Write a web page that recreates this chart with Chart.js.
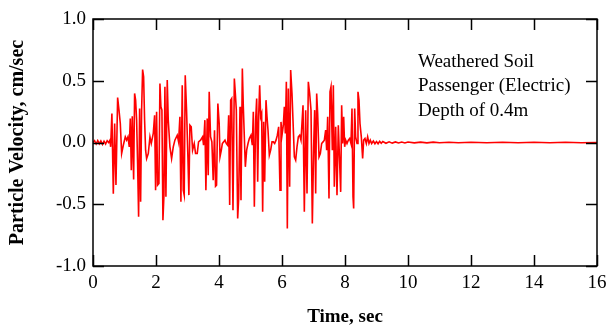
<!DOCTYPE html>
<html>
<head>
<meta charset="utf-8">
<script src="https://cdn.jsdelivr.net/npm/chart.js@4"></script>
<style>
  html, body { margin: 0; padding: 0; background: #fff; }
  #wrap { width: 608px; height: 330px; }
</style>
</head>
<body>
<div id="wrap"><canvas id="velChart" width="608" height="330"></canvas></div>
<script>
// velocity record
const timeSec = [
  0.00, 0.05, 0.10, 0.15, 0.20, 0.25, 0.30, 0.35, 0.40, 0.45, 0.50, 0.54,
  0.56, 0.60, 0.645, 0.687, 0.729, 0.782, 0.825, 0.867, 0.909, 0.962, 1.025, 1.068,
  1.110, 1.152, 1.184, 1.216, 1.247, 1.290, 1.321, 1.353, 1.385, 1.416, 1.448, 1.480,
  1.512, 1.543, 1.575, 1.607, 1.638, 1.670, 1.702, 1.755, 1.808, 1.850, 1.913, 1.956,
  1.987, 2.019, 2.051, 2.093, 2.125, 2.156, 2.188, 2.220, 2.252, 2.283, 2.315, 2.357,
  2.389, 2.442, 2.495, 2.548, 2.600, 2.674, 2.717, 2.759, 2.791, 2.833, 2.865, 2.896,
  2.928, 2.970, 3.013, 3.044, 3.076, 3.118, 3.161, 3.214, 3.256, 3.309, 3.351, 3.414,
  3.478, 3.510, 3.552, 3.584, 3.626, 3.658, 3.689, 3.732, 3.774, 3.816, 3.858, 3.890,
  3.922, 3.964, 4.006, 4.032, 4.074, 4.106, 4.148, 4.190, 4.233, 4.275, 4.307, 4.339,
  4.370, 4.402, 4.444, 4.487, 4.519, 4.550, 4.593, 4.624, 4.667, 4.698, 4.741, 4.772,
  4.804, 4.836, 4.878, 4.921, 4.963, 5.016, 5.058, 5.090, 5.122, 5.164, 5.196, 5.228,
  5.259, 5.291, 5.323, 5.354, 5.386, 5.418, 5.450, 5.492, 5.524, 5.556, 5.598, 5.640,
  5.683, 5.725, 5.767, 5.810, 5.852, 5.894, 5.937, 5.968, 6.000, 6.042, 6.074, 6.106,
  6.138, 6.169, 6.201, 6.243, 6.275, 6.317, 6.349, 6.392, 6.434, 6.476, 6.519, 6.561,
  6.603, 6.667, 6.709, 6.751, 6.794, 6.836, 6.878, 6.921, 6.963, 7.005, 7.037, 7.069,
  7.101, 7.132, 7.175, 7.217, 7.259, 7.302, 7.344, 7.386, 7.418, 7.450, 7.492, 7.524,
  7.556, 7.598, 7.630, 7.661, 7.704, 7.746, 7.788, 7.863, 7.894, 7.926, 7.958, 7.989,
  8.021, 8.063, 8.106, 8.148, 8.190, 8.222, 8.254, 8.275, 8.307, 8.338, 8.381, 8.412,
  8.444, 8.476, 8.518, 8.560, 8.592, 8.634, 8.677, 8.719, 8.761, 8.803, 8.846, 8.90,
  8.95, 9.00, 9.05, 9.10, 9.15, 9.20, 9.30, 9.40, 9.50, 9.60, 9.70, 9.80,
  9.90, 10.0, 10.2, 10.4, 10.6, 10.8, 11.0, 11.3, 11.6, 12.0, 12.5, 13.0,
  13.5, 14.0, 14.5, 15.0, 15.5, 16.0
];
const velocity = [
  0.00, 0.015, -0.012, 0.015, -0.01, 0.012, -0.015, 0.01, -0.012, 0.015, 0.0, 0.02,
  -0.035, 0.235, -0.415, 0.154, -0.345, 0.364, 0.262, 0.154, -0.089, -0.022, 0.046, 0.019,
  0.046, -0.035, 0.194, -0.224, 0.213, -0.300, 0.397, 0.343, 0.181, -0.170, -0.602, 0.275,
  -0.480, 0.262, 0.591, 0.532, 0.181, -0.062, -0.130, -0.089, 0.046, -0.008, 0.073, 0.221,
  -0.386, 0.248, -0.345, -0.332, 0.478, 0.289, 0.262, -0.629, -0.426, 0.451, -0.440, 0.505,
  0.181, -0.035, -0.130, -0.035, 0.019, 0.059, 0.005, 0.208, -0.480, 0.464, -0.386, -0.426,
  0.545, 0.262, -0.116, -0.426, 0.140, 0.127, -0.062, -0.008, -0.089, -0.089, 0.005, 0.019,
  0.046, -0.022, 0.181, -0.386, 0.194, -0.265, 0.410, 0.046, 0.005, -0.305, 0.100, -0.354,
  -0.345, 0.316, 0.154, -0.116, -0.062, -0.008, 0.005, 0.019, -0.008, -0.022, 0.221, -0.507,
  0.343, 0.356, -0.548, 0.518, 0.397, 0.262, -0.615, -0.453, 0.289, -0.467, 0.599, 0.289,
  0.046, -0.197, -0.062, -0.008, 0.032, 0.059, -0.022, 0.248, -0.521, 0.181, 0.356, -0.318,
  0.208, 0.464, 0.208, 0.235, -0.561, 0.167, -0.318, 0.343, 0.208, 0.100, -0.103, -0.062,
  0.005, 0.005, -0.008, 0.019, 0.059, 0.127, -0.386, 0.167, 0.059, 0.140, 0.289, 0.073,
  0.491, -0.696, 0.437, -0.359, 0.586, 0.397, 0.181, -0.116, -0.143, -0.035, 0.046, 0.059,
  0.019, 0.302, -0.561, 0.262, -0.413, 0.491, 0.397, 0.262, -0.656, -0.035, 0.262, -0.413,
  0.397, 0.235, -0.116, -0.089, -0.008, 0.005, 0.019, 0.100, -0.062, 0.208, -0.453, 0.410,
  0.451, -0.062, 0.464, -0.359, 0.127, -0.426, 0.140, -0.400, 0.302, -0.008, 0.208, -0.035,
  0.019, -0.008, 0.019, 0.032, -0.008, 0.275, -0.440, -0.534, 0.275, 0.046, -0.008, 0.410,
  0.343, 0.154, 0.046, -0.130, 0.019, 0.032, -0.008, 0.046, -0.008, 0.019, -0.008, 0.012,
  -0.010, 0.008, -0.010, 0.010, -0.006, 0.008, -0.006, 0.006, -0.005, 0.005, -0.004, 0.004,
  -0.004, 0.004, -0.003, 0.003, -0.003, 0.003, -0.002, 0.002, -0.002, 0.002, -0.002, 0.002,
  -0.002, 0.002, -0.002, 0.002, -0.002, 0.0
];
const xTicks = [0, 2, 4, 6, 8, 10, 12, 14, 16];
const yTicks = [-1.0, -0.5, 0.0, 0.5, 1.0];
const noteLines = ['Weathered Soil', 'Passenger (Electric)', 'Depth of 0.4m'];

const SERIF = '"Liberation Serif", "Times New Roman", serif';

// inward tick marks on all four sides plus the closed frame
const frameTicks = {
  id: 'frameTicks',
  afterDraw(chart) {
    const { ctx, chartArea: a, scales } = chart;
    const len = 11;
    ctx.save();
    ctx.strokeStyle = '#000';
    ctx.lineWidth = 1.5;
    ctx.strokeRect(a.left, a.top, a.right - a.left, a.bottom - a.top);
    ctx.beginPath();
    xTicks.forEach(v => {
      const px = Math.round(scales.x.getPixelForValue(v)) + 0.5;
      ctx.moveTo(px, a.bottom); ctx.lineTo(px, a.bottom - len);
      ctx.moveTo(px, a.top); ctx.lineTo(px, a.top + len);
    });
    yTicks.forEach(v => {
      const py = Math.round(scales.y.getPixelForValue(v)) + 0.5;
      ctx.moveTo(a.left, py); ctx.lineTo(a.left + len, py);
      ctx.moveTo(a.right, py); ctx.lineTo(a.right - len, py);
    });
    ctx.stroke();

    // note text, top right
    ctx.fillStyle = '#000';
    ctx.font = '19px ' + SERIF;
    ctx.textAlign = 'left';
    ctx.textBaseline = 'alphabetic';
    noteLines.forEach((s, i) => ctx.fillText(s, 418, 67 + i * 24.3));
    ctx.restore();
  }
};

const points = timeSec.map((t, i) => ({ x: t, y: velocity[i] }));

new Chart(document.getElementById('velChart').getContext('2d'), {
  type: 'line',
  data: {
    datasets: [{
      data: points,
      borderColor: '#ff0000',
      borderWidth: 1.6,
      pointRadius: 0,
      tension: 0,
      fill: false
    }]
  },
  options: {
    responsive: false,
    animation: false,
    devicePixelRatio: 1,
    layout: { padding: { left: 0, right: 11, top: 19, bottom: 0 } },
    plugins: { legend: { display: false }, tooltip: { enabled: false } },
    scales: {
      x: {
        type: 'linear',
        min: 0, max: 16,
        afterBuildTicks: s => { s.ticks = xTicks.map(v => ({ value: v })); },
        afterFit: s => { s.height = 64; s.paddingLeft = 0; s.paddingRight = 0; },
        grid: { display: false, drawTicks: false },
        border: { display: false },
        ticks: { color: '#000', font: { family: SERIF, size: 19 }, padding: 6, maxRotation: 0 },
        title: {
          display: true, text: 'Time, sec', color: '#000',
          font: { family: SERIF, size: 19, weight: 'bold' },
          padding: { top: 0, bottom: 2 }
        }
      },
      y: {
        min: -1, max: 1,
        afterBuildTicks: s => { s.ticks = yTicks.map(v => ({ value: v })); },
        afterFit: s => { s.width = 93; s.paddingTop = 0; s.paddingBottom = 0; },
        grid: { display: false, drawTicks: false },
        border: { display: false },
        ticks: {
          color: '#000', font: { family: SERIF, size: 19 }, padding: 7,
          callback: v => Number(v).toFixed(1)
        },
        title: {
          display: true, text: 'Particle Velocity, cm/sec', color: '#000',
          font: { family: SERIF, size: 20, weight: 'bold' },
          padding: { top: 6, bottom: 0 }
        }
      }
    }
  },
  plugins: [frameTicks]
});
</script>
</body>
</html>
